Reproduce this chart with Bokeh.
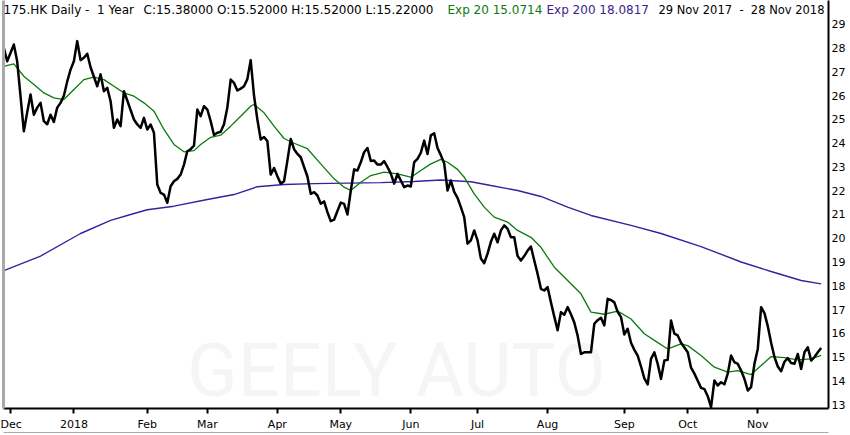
from bokeh.plotting import figure
from bokeh.models import FixedTicker, Label, LinearAxis
from bokeh.core.properties import value
from bokeh.embed import file_html
from bokeh.resources import INLINE

# daily closes, one per trading day, 29 Nov 2017 .. 28 Nov 2018
close = [28.02, 27.45, 27.8, 28.16, 27.45, 25.98, 24.5, 25.3, 26.05, 25.2,
         25.5, 25.7, 24.93, 24.8, 25.2, 24.9, 25.5, 25.7, 26.0, 26.6,
         27.1, 27.45, 28.3, 27.5, 27.6, 27.77, 27.2, 26.8, 26.4, 26.9,
         26.19, 26.33, 25.77, 24.65, 25.0, 24.72, 26.19, 25.8, 25.4, 25.0,
         24.79, 24.65, 25.07, 24.58, 24.79, 24.44, 22.26, 21.91, 21.84, 21.49,
         22.19, 22.4, 22.5, 22.68, 23.1, 23.66, 23.75, 23.9, 25.42, 25.14,
         25.56, 25.42, 24.93, 24.35, 24.44, 24.48, 24.8, 25.5, 26.68, 26.54,
         26.22, 26.3, 26.4, 26.7, 27.5, 26.0, 25.0, 24.16, 24.26, 24.09,
         22.68, 22.96, 22.61, 22.3, 22.4, 23.27, 24.18, 23.75, 23.55, 23.41,
         23.0, 22.6, 21.87, 21.94, 21.8, 21.45, 21.55, 21.1, 20.72, 20.78,
         21.15, 21.5, 21.45, 21.0, 22.0, 22.9, 22.85, 23.2, 23.62, 23.8,
         23.25, 23.27, 23.1, 23.1, 23.25, 23.0, 22.72, 22.3, 22.71, 22.43,
         22.15, 22.22, 22.18, 23.2, 23.34, 23.6, 24.11, 23.55, 24.33, 24.42,
         23.8, 23.5, 23.15, 22.01, 22.43, 21.95, 21.7, 21.31, 20.89, 19.77,
         19.91, 20.33, 19.91, 19.15, 18.95, 19.35, 19.85, 20.19, 19.83, 20.33,
         20.54, 20.4, 20.04, 20.04, 19.25, 19.06, 19.25, 19.48, 19.65, 19.06,
         18.5, 17.87, 17.8, 17.94, 17.3, 16.7, 16.13, 16.89, 16.78, 17.1,
         16.8, 16.45, 15.9, 15.13, 15.2, 15.2, 15.2, 16.4, 16.55, 16.65,
         16.33, 17.45, 17.4, 17.3, 16.9, 16.68, 15.95, 16.19, 15.6, 15.3,
         15.06, 14.6, 14.1, 13.85, 14.92, 15.2, 14.71, 14.08, 14.85, 14.88,
         16.54, 15.98, 15.91, 15.6, 15.4, 15.2, 14.55, 14.3, 14.0, 13.7,
         13.65, 13.35, 12.89, 14.01, 13.8, 13.94, 13.85, 14.3, 15.06, 14.78,
         14.71, 14.43, 14.08, 13.59, 13.73, 14.71, 15.34, 17.1, 16.85, 16.3,
         15.6, 15.0, 14.6, 14.4, 14.8, 14.95, 14.75, 14.72, 15.13, 14.5,
         15.2, 15.41, 14.85, 15.0, 15.2, 15.38]
days = list(range(len(close)))

# Exp 20 (green)
ema20_day = [0, 3, 6, 9, 12, 15, 18, 21, 24, 27, 30, 33, 36, 39, 42, 45, 48, 51, 54,
             57, 59, 62, 65, 68, 71, 74, 75, 78, 81, 84, 87, 91, 95, 99, 102, 104,
             107, 110, 114, 118, 122, 125, 128, 131, 133, 136, 138, 141, 144, 147,
             151, 154, 158, 161, 165, 169, 173, 176, 180, 184, 188, 192, 195, 199,
             203, 205, 209, 213, 217, 220, 224, 227, 230, 234, 238, 242, 245]
ema20 = [27.24, 27.34, 26.82, 26.47, 26.12, 25.91, 25.84, 26.26, 26.68, 26.78, 26.68,
         26.4, 26.12, 25.98, 25.7, 25.35, 24.58, 23.95, 23.64, 23.69, 23.95, 24.25,
         24.34, 24.72, 25.14, 25.56, 25.63, 25.28, 24.72, 24.2, 24.0, 23.77, 23.13,
         22.5, 22.15, 22.01, 22.36, 22.64, 22.78, 22.71, 22.57, 22.85, 23.13, 23.32,
         23.2, 22.9, 22.57, 21.87, 21.31, 20.89, 20.68, 20.33, 20.04, 19.62, 18.78,
         18.22, 17.66, 16.89, 16.8, 16.93, 16.6, 15.98, 15.7, 15.34, 15.55, 15.48,
         15.06, 14.57, 14.36, 14.43, 14.26, 14.64, 15.02, 14.97, 14.88, 14.92, 15.07]

# Exp 200 (purple)
ema200_day = [0, 11, 23, 32, 38, 43, 51, 61, 69, 76, 84, 93, 103, 113, 123, 131, 140,
              146, 154, 161, 169, 176, 188, 197, 209, 221, 230, 239, 245]
ema200 = [18.64, 19.25, 20.2, 20.75, 21.0, 21.2, 21.35, 21.63, 21.84, 22.17, 22.26,
          22.3, 22.32, 22.34, 22.39, 22.45, 22.38, 22.22, 22.01, 21.76, 21.31, 20.96,
          20.54, 20.2, 19.65, 19.0, 18.6, 18.22, 18.08]

tick_days = [2, 21, 43, 61, 82, 101, 122, 142, 163, 186, 205, 226]
tick_labels = ['Dec', '2018', 'Feb', 'Mar', 'Apr', 'May', 'Jun', 'Jul', 'Aug', 'Sep', 'Oct', 'Nov']
price_ticks = list(range(13, 30))

FONT = "DejaVu Sans"
GREEN = "#0c7a0c"
PURPLE = "#3a20a0"
GREY = "#a9a9a9"
SP2 = "\u00a0 "  # two spaces that svg will not collapse

p = figure(frame_width=825, frame_height=408, x_range=(-0.1, 247.2), y_range=(12.832, 30.01),
           y_axis_location="right", output_backend="svg", toolbar_location=None,
           min_border_top=0, min_border_left=3, min_border_right=0, min_border_bottom=3)
p.xgrid.visible = False
p.ygrid.visible = False
p.outline_line_color = None
p.background_fill_color = "white"

xa = p.xaxis[0]
xa.ticker = FixedTicker(ticks=tick_days)
xa.major_label_overrides = dict(zip(tick_days, tick_labels))
xa.major_label_text_align = "left"
xa.major_tick_out = 5
xa.major_tick_in = 0
xa.minor_tick_out = 0
xa.minor_tick_in = 0
xa.axis_line_width = 2
xa.major_tick_line_width = 2
xa.major_label_standoff = 4
xa.major_label_text_font = FONT
xa.major_label_text_font_size = "11px"
xa.major_label_text_color = "black"

ya = p.yaxis[0]
ya.ticker = FixedTicker(ticks=price_ticks)
ya.major_tick_out = 0
ya.major_tick_in = 0
ya.minor_tick_out = 0
ya.minor_tick_in = 0
ya.axis_line_width = 2
ya.major_label_standoff = 3
ya.major_label_text_font = FONT
ya.major_label_text_font_size = "11px"
ya.major_label_text_color = "black"

# grey window edges, left and bottom
la = LinearAxis(ticker=FixedTicker(ticks=[]), axis_line_color=GREY, axis_line_width=3,
                major_tick_out=0, major_tick_in=0, minor_tick_out=0, minor_tick_in=0)
p.add_layout(la, "left")
ba = LinearAxis(ticker=FixedTicker(ticks=[]), axis_line_color=GREY, axis_line_width=3,
                major_tick_out=0, major_tick_in=0, minor_tick_out=0, minor_tick_in=0)
p.add_layout(ba, "below")

# watermark, drawn first so the lines sit on top
p.text(x=[55], y=[14.43], text=["GEELY AUTO"], text_font=value("Roboto"),
       text_font_size="74px", text_color="#f5f5f5", text_baseline="alphabetic")

p.line(ema200_day, ema200, line_color=PURPLE, line_width=1.4)
p.line(ema20_day, ema20, line_color=GREEN, line_width=1.3)
p.line(days, close, line_color="black", line_width=2.5, line_join="round")

# header
hy = 29.63
header = [(0, "175.HK Daily -" + SP2 + "1 Year", "black", "left", "12px"),
          (140, "C:15.38000 O:15.52000 H:15.52000 L:15.22000", "black", "left", "12px"),
          (444, "Exp 20 15.0714", GREEN, "left", "12px"),
          (543, "Exp 200 18.0817", "#3d1d8a", "left", "12px"),
          (821, "29 Nov 2017" + SP2 + "-" + SP2 + "28 Nov 2018", "black", "right", "11.5px")]
for hx, txt, col, al, fs in header:
    p.add_layout(Label(x=hx, y=hy, x_units="screen", y_units="data", text=txt, text_color=col,
                       text_font=FONT, text_font_size=fs, text_align=al,
                       text_baseline="alphabetic"))

open("out.html", "w").write(file_html(p, INLINE))
